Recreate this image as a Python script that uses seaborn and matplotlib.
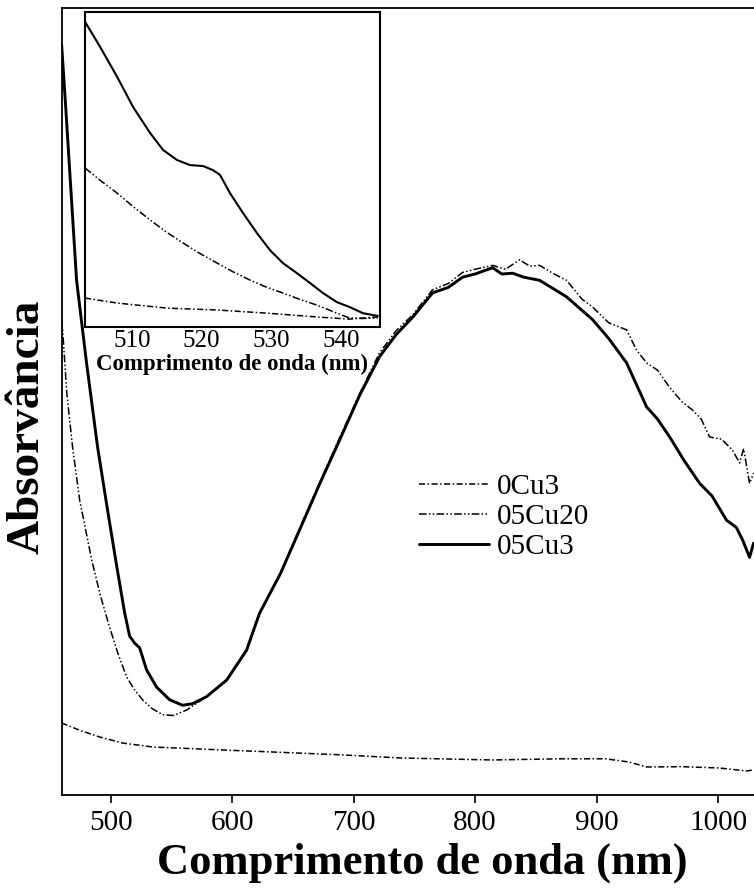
import matplotlib
matplotlib.use("Agg")
import matplotlib.pyplot as plt
import seaborn as sns
import numpy as np
import pandas as pd

# ---------------- data (main panel, arbitrary absorbance units) ----------------
wl_05cu3 = [459.7, 462.8, 466.3, 472.0, 480.2, 489.3, 497.5, 504.9, 511.5, 515.6,
            519.8, 523.9, 529.6, 537.9, 548.6, 559.3, 567.5, 579.0, 595.5, 611.9,
            622.6, 640.0, 655.6, 672.0, 688.5, 705.0, 721.4, 735.0, 748.6, 765.0,
            778.0, 789.7, 800.0, 814.4, 822.0, 830.9, 840.0, 853.1, 875.3, 896.7,
            910.0, 924.7, 941.2, 950.0, 960.1, 972.0, 984.8, 995.0, 1007.0, 1015.0,
            1020.2, 1025.9, 1029.2]
ab_05cu3 = [0.953, 0.880, 0.794, 0.654, 0.549, 0.442, 0.362, 0.292, 0.232, 0.202,
            0.193, 0.187, 0.159, 0.137, 0.121, 0.114, 0.116, 0.125, 0.146, 0.184,
            0.231, 0.282, 0.337, 0.395, 0.451, 0.508, 0.557, 0.585, 0.607, 0.638,
            0.645, 0.658, 0.662, 0.670, 0.662, 0.663, 0.658, 0.654, 0.633, 0.604,
            0.580, 0.549, 0.493, 0.478, 0.455, 0.425, 0.396, 0.380, 0.349, 0.340,
            0.324, 0.302, 0.320]

wl_05cu20 = [459.7, 460.5, 464.0, 468.7, 474.5, 484.4, 491.5, 499.2, 506.0, 513.2,
             519.5, 526.3, 534.0, 542.8, 552.0, 562.6, 579.0, 595.5, 611.9, 622.6,
             640.0, 655.6, 672.0, 688.5, 705.0, 721.4, 735.0, 748.6, 765.0, 778.0,
             789.7, 800.0, 814.4, 825.0, 836.6, 845.0, 853.1, 865.0, 875.3, 888.0,
             896.7, 910.0, 924.7, 933.0, 941.2, 950.0, 960.1, 970.0, 979.0, 986.0,
             993.0, 1003.0, 1011.9, 1017.7, 1021.0, 1025.9, 1029.2]
ab_05cu20 = [0.604, 0.591, 0.510, 0.442, 0.375, 0.299, 0.254, 0.213, 0.180, 0.150,
             0.134, 0.121, 0.110, 0.102, 0.101, 0.108, 0.125, 0.145, 0.183, 0.230,
             0.283, 0.339, 0.397, 0.454, 0.510, 0.562, 0.590, 0.610, 0.642, 0.650,
             0.664, 0.668, 0.673, 0.668, 0.680, 0.672, 0.673, 0.662, 0.654, 0.630,
             0.620, 0.600, 0.591, 0.565, 0.549, 0.540, 0.518, 0.500, 0.489, 0.478,
             0.455, 0.452, 0.438, 0.422, 0.440, 0.396, 0.409]

wl_0cu3 = [459.7, 475.0, 491.0, 510.0, 534.6, 580.0, 627.6, 690.0, 739.5, 814.4,
           870.0, 907.4, 926.3, 941.2, 970.0, 1001.2, 1023.5, 1029.2]
ab_0cu3 = [0.0915, 0.082, 0.0737, 0.066, 0.061, 0.058, 0.055, 0.051, 0.047, 0.0445,
           0.046, 0.046, 0.042, 0.0356, 0.036, 0.0343, 0.0305, 0.032]

# ---------------- data (inset, arbitrary units) ----------------
in_wl_05cu3 = [503.33, 505.47, 507.90, 510.19, 512.61, 514.47, 516.47, 518.33, 520.19,
               521.61, 522.61, 524.04, 525.90, 527.90, 529.76, 531.61, 533.61, 535.47,
               537.33, 539.33, 541.19, 543.04, 545.19]
in_ab_05cu3 = [0.968, 0.889, 0.794, 0.698, 0.616, 0.562, 0.530, 0.514, 0.511,
               0.498, 0.483, 0.425, 0.362, 0.298, 0.244, 0.203, 0.171, 0.140,
               0.108, 0.079, 0.063, 0.044, 0.035]
in_wl_05cu20 = [503.3, 505.5, 507.9, 510.2, 512.6, 514.9, 517.3, 519.7, 522.2, 524.5,
                526.9, 529.2, 531.6, 534.0, 536.4, 538.0, 539.3, 541.1, 543.0, 545.2]
in_ab_05cu20 = [0.505, 0.465, 0.425, 0.382, 0.340, 0.302, 0.267, 0.234, 0.203, 0.175,
                0.149, 0.127, 0.108, 0.088, 0.070, 0.056, 0.044, 0.029, 0.027, 0.029]
in_wl_0cu3 = [503.3, 507.9, 515.0, 522.2, 529.3, 536.4, 541.1, 545.2]
in_ab_0cu3 = [0.092, 0.076, 0.060, 0.054, 0.044, 0.032, 0.025, 0.032]

labels = ["0Cu3", "05Cu20", "05Cu3"]
xticks_main = [500, 600, 700, 800, 900, 1000]
xticks_inset = [510, 520, 530, 540]

# ---------------- styling ----------------
sns.set_style("ticks")
plt.rcParams['font.family'] = ['Liberation Serif', 'DejaVu Serif']
plt.rcParams['text.color'] = 'black'
plt.rcParams['axes.labelcolor'] = 'black'
plt.rcParams['xtick.color'] = 'black'
plt.rcParams['ytick.color'] = 'black'
plt.rcParams['legend.labelcolor'] = 'black'

ls_0cu3 = (0, (4, 1.6, 1, 1.6))
ls_05cu20 = (0, (5, 1.5, 1, 1.5, 1, 1.5))

fig = plt.figure(figsize=(7.54, 8.93), dpi=100)
W, H = 754.0, 893.0
AXW = 777.6
ax = fig.add_axes([62 / W, (H - 795) / H, AXW / W, 787 / H])

sns.lineplot(x=wl_0cu3, y=ab_0cu3, ax=ax, color='black', lw=1.1,
             linestyle=ls_0cu3, label=labels[0], estimator=None, sort=False)
sns.lineplot(x=wl_05cu20, y=ab_05cu20, ax=ax, color='black', lw=1.1,
             linestyle=ls_05cu20, label=labels[1], estimator=None, sort=False)
sns.lineplot(x=wl_05cu3, y=ab_05cu3, ax=ax, color='black', lw=2.1,
             linestyle='-', label=labels[2], estimator=None, sort=False)

ax.set_xlim(460, 1100)
ax.set_ylim(0, 1)
ax.set_xticks(xticks_main)
ax.set_yticks([])
ax.tick_params(axis='x', direction='out', length=6, width=1.2, labelsize=21, pad=5,
               colors='black')
for s in ax.spines.values():
    s.set_linewidth(1.3)
    s.set_color('black')
ax.set_xlabel("Comprimento de onda (nm)", fontsize=32, fontweight='bold', color='black')
ax.xaxis.set_label_coords((422 - 62) / AXW, (795 - 843) / 787)
ax.set_ylabel("Absorvância", fontsize=34, fontweight='bold', color='black')
ax.yaxis.set_label_coords((49 - 62) / AXW, (795 - 427) / 787)

leg = ax.legend(loc='upper left', bbox_to_anchor=((419 - 62) / AXW, (795 - 474) / 787),
                frameon=False, fontsize=21, handlelength=2.4, handletextpad=0.28,
                labelspacing=0.12, borderaxespad=0, borderpad=0)
for t in leg.get_texts():
    t.set_color('black')

# ---------------- inset ----------------
ax2 = fig.add_axes([85 / W, (H - 327) / H, 295 / W, 315 / H])
ax2.set_facecolor('white')
sns.lineplot(x=in_wl_0cu3, y=in_ab_0cu3, ax=ax2, color='black', lw=1.1,
             linestyle=ls_0cu3, estimator=None, sort=False)
sns.lineplot(x=in_wl_05cu20, y=in_ab_05cu20, ax=ax2, color='black', lw=1.1,
             linestyle=ls_05cu20, estimator=None, sort=False)
sns.lineplot(x=in_wl_05cu3, y=in_ab_05cu3, ax=ax2, color='black', lw=1.5,
             linestyle='-', estimator=None, sort=False)
ax2.set_xlim(503.3, 545.5)
ax2.set_ylim(0, 1)
ax2.set_xticks(xticks_inset)
ax2.set_yticks([])
ax2.tick_params(axis='x', length=0, labelsize=18, pad=2, colors='black')
for s in ax2.spines.values():
    s.set_linewidth(1.5)
    s.set_color('black')
ax2.set_xlabel("Comprimento de onda (nm)", fontsize=16.5, fontweight='bold', color='black')
ax2.xaxis.set_label_coords(0.5, (327 - 354) / 315)
if ax2.get_legend() is not None:
    ax2.get_legend().remove()

fig.savefig("out.png", dpi=100)
